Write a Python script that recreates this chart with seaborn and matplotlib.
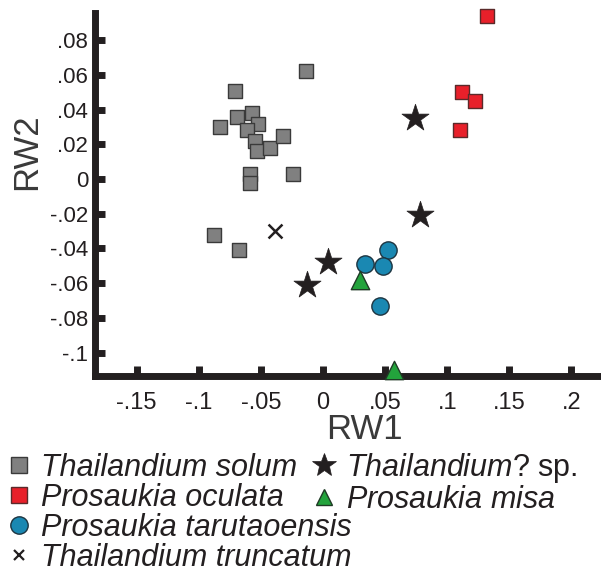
import matplotlib
matplotlib.use("Agg")
import matplotlib.pyplot as plt
import numpy as np
import seaborn as sns
from matplotlib.lines import Line2D

# RW1 / RW2 scores
solum_x = [-0.071, -0.083, -0.069, -0.057, -0.052, -0.061, -0.055, -0.053,
           -0.043, -0.032, -0.059, -0.059, -0.024, -0.014, -0.088, -0.068]
solum_y = [0.051, 0.030, 0.036, 0.038, 0.032, 0.028, 0.022, 0.016,
           0.018, 0.025, 0.003, -0.002, 0.003, 0.062, -0.032, -0.041]
oculata_x = [0.132, 0.112, 0.122, 0.110]
oculata_y = [0.094, 0.050, 0.045, 0.028]
sp_x = [0.074, 0.078, 0.004, -0.013]
sp_y = [0.035, -0.021, -0.048, -0.061]
taru_x = [0.052, 0.034, 0.048, 0.046]
taru_y = [-0.041, -0.049, -0.050, -0.073]
misa_x = [0.030, 0.057]
misa_y = [-0.058, -0.110]
trunc_x = [-0.039]
trunc_y = [-0.030]

x_ticks = [-0.15, -0.1, -0.05, 0, 0.05, 0.1, 0.15, 0.2]
x_ticklabels = ['-.15', '-.1', '-.05', '0', '.05', '.1', '.15', '.2']
y_ticks = [-0.1, -0.08, -0.06, -0.04, -0.02, 0, 0.02, 0.04, 0.06, 0.08]
y_ticklabels = ['-.1', '-.08', '-.06', '-.04', '-.02', '0', '.02', '.04', '.06', '.08']

sns.set_style("white")
plt.rcParams['font.family'] = ['Liberation Sans', 'DejaVu Sans']
plt.rcParams['mathtext.fontset'] = 'custom'
plt.rcParams['mathtext.it'] = 'Liberation Sans:italic'
plt.rcParams['mathtext.rm'] = 'Liberation Sans'

fig = plt.figure(figsize=(6.01, 5.72), dpi=100)
ax = fig.add_axes([0.1586, 0.3421, 0.8414, 0.6352])

# (x, y, marker, face, edge, size, linewidth)
groups = [
    (solum_x, solum_y, 's', '#808080', '#3a3a3a', 95, 1.0),
    (oculata_x, oculata_y, 's', '#e8202a', '#5a2a2a', 95, 1.0),
    (taru_x, taru_y, 'o', '#1a88b2', '#1d3440', 155, 1.0),
    (misa_x, misa_y, '^', '#23a33c', '#1f3a25', 175, 1.0),
    (sp_x, sp_y, '*', '#231f20', '#231f20', 420, 0.5),
]
for gx, gy, mk, fc, ec, s, lw in groups:
    sns.scatterplot(x=gx, y=gy, marker=mk, color=fc, edgecolor=ec, s=s,
                    linewidth=lw, ax=ax, legend=False, zorder=5, clip_on=False)
# unfilled cross
ax.scatter(trunc_x, trunc_y, marker='x', color='#231f20', s=100, linewidths=1.8,
           zorder=5, clip_on=False)

ax.set_xlim(-0.1833, 0.2238)
ax.set_ylim(-0.1137, 0.0957)
ax.set_xticks(x_ticks)
ax.set_xticklabels(x_ticklabels)
ax.set_yticks(y_ticks)
ax.set_yticklabels(y_ticklabels)

for side in ['top', 'right']:
    ax.spines[side].set_visible(False)
for side in ['left', 'bottom']:
    ax.spines[side].set_linewidth(5)
    ax.spines[side].set_color('#231f20')

ax.tick_params(axis='both', direction='in', length=7.5, width=5, color='#231f20',
               bottom=True, left=True, labelcolor='#231f20')
ax.tick_params(axis='y', labelsize=16, pad=5)
ax.tick_params(axis='x', labelsize=17, pad=11)

ax.set_xlabel('RW1', fontsize=25, color='#3a3a3a')
ax.set_ylabel('RW2', fontsize=25, color='#3a3a3a')
ax.xaxis.set_label_coords(0.533, -0.145)
ax.xaxis.label.set_va('center')
ax.yaxis.set_label_coords(-0.135, 0.617)
ax.yaxis.label.set_va('center')

# legend, drawn as two blocks of entries
h_solum = Line2D([], [], ls='none', marker='s', ms=11.5, mfc='#808080', mec='#3a3a3a', mew=1)
h_ocul = Line2D([], [], ls='none', marker='s', ms=11.5, mfc='#e8202a', mec='#5a2a2a', mew=1)
h_taru = Line2D([], [], ls='none', marker='o', ms=12.5, mfc='#1a88b2', mec='#1d3440', mew=1)
h_trunc = Line2D([], [], ls='none', marker='x', ms=7.5, mec='#231f20', mew=1.6)
h_sp = Line2D([], [], ls='none', marker='*', ms=18, mfc='#231f20', mec='#231f20', mew=0.5)
h_misa = Line2D([], [], ls='none', marker='^', ms=11, mfc='#23a33c', mec='#1f3a25', mew=1)

leg_kw = dict(frameon=False, loc='upper left', handlelength=1.0, handletextpad=0.2,
              labelspacing=0.0, borderpad=0, borderaxespad=0)
leg1 = fig.legend([h_solum, h_ocul, h_taru, h_trunc],
                  ['Thailandium solum', 'Prosaukia oculata',
                   'Prosaukia tarutaoensis', 'Thailandium truncatum'],
                  bbox_to_anchor=(4 / 601, 1 - 453 / 572),
                  prop={'size': 22, 'style': 'italic'}, **leg_kw)
leg2 = fig.legend([h_sp, h_misa],
                  [r'$\mathit{Thailandium?}$ sp.', r'$\mathit{Prosaukia\ misa}$'],
                  bbox_to_anchor=(309 / 601, 1 - 451 / 572), prop={'size': 22}, **leg_kw)
for leg in (leg1, leg2):
    for t in leg.get_texts():
        t.set_color('#231f20')

fig.savefig('out.png', dpi=100)
